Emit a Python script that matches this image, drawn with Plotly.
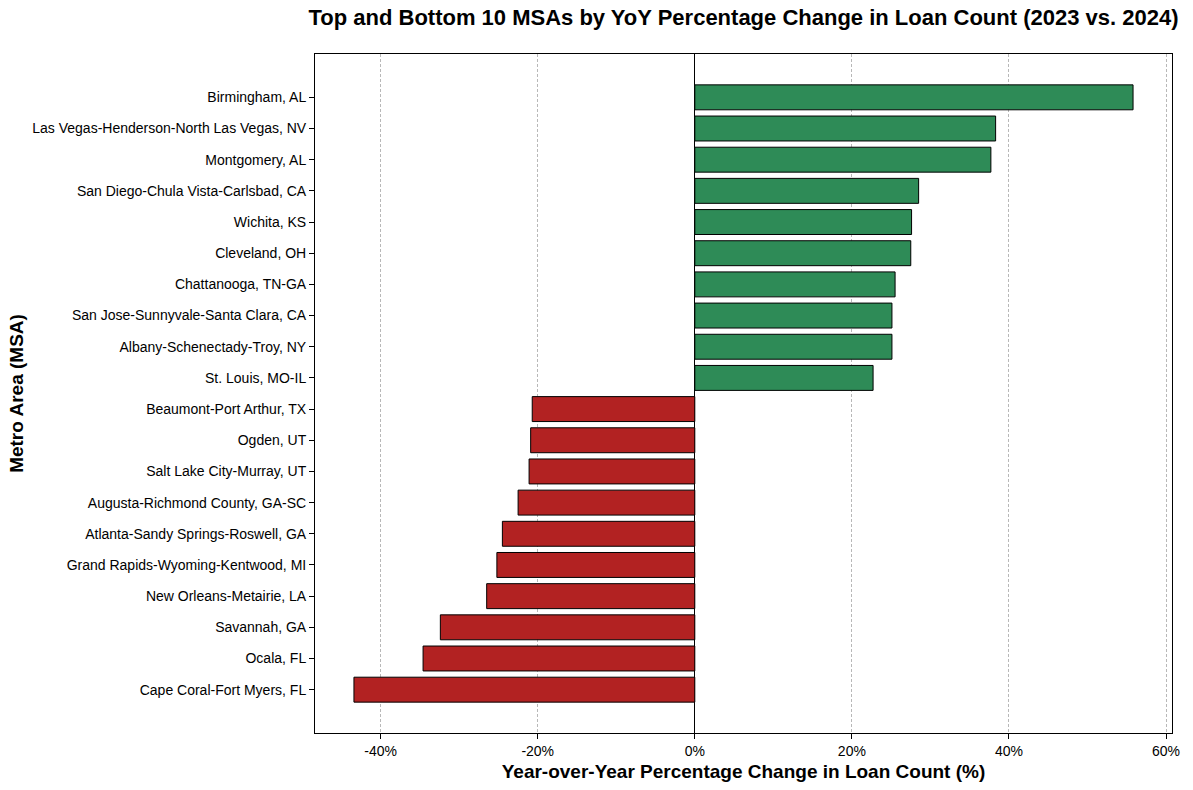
import plotly.graph_objects as go

# Data (bottom to top)
msas = [
    "Cape Coral-Fort Myers, FL",
    "Ocala, FL",
    "Savannah, GA",
    "New Orleans-Metairie, LA",
    "Grand Rapids-Wyoming-Kentwood, MI",
    "Atlanta-Sandy Springs-Roswell, GA",
    "Augusta-Richmond County, GA-SC",
    "Salt Lake City-Murray, UT",
    "Ogden, UT",
    "Beaumont-Port Arthur, TX",
    "St. Louis, MO-IL",
    "Albany-Schenectady-Troy, NY",
    "San Jose-Sunnyvale-Santa Clara, CA",
    "Chattanooga, TN-GA",
    "Cleveland, OH",
    "Wichita, KS",
    "San Diego-Chula Vista-Carlsbad, CA",
    "Montgomery, AL",
    "Las Vegas-Henderson-North Las Vegas, NV",
    "Birmingham, AL",
]
pct_change = [
    -43.4, -34.6, -32.4, -26.5, -25.2, -24.5, -22.5, -21.1, -20.9, -20.7,
    22.7, 25.1, 25.1, 25.5, 27.5, 27.6, 28.5, 37.7, 38.3, 55.8,
]
x_ticks = [-40, -20, 0, 20, 40, 60]

positions = list(range(len(msas)))
colors = ["#2e8b57" if v >= 0 else "#b22222" for v in pct_change]

fig = go.Figure(
    go.Bar(
        x=pct_change,
        y=positions,
        orientation="h",
        width=0.8,
        marker=dict(color=colors, line=dict(color="black", width=1)),
        hovertext=msas,
    )
)

font = "Liberation Sans, Arial, sans-serif"
lo, hi = min(pct_change), max(pct_change)
pad = 0.05 * (hi - lo)

W, H = 1193, 790

fig.update_layout(
    width=W,
    height=H,
    margin=dict(l=315, r=21, t=54, b=57),
    plot_bgcolor="white",
    paper_bgcolor="white",
    showlegend=False,
    font=dict(family=font, size=14, color="black"),
    title=dict(
        text="<b>Top and Bottom 10 MSAs by YoY Percentage Change in Loan Count (2023 vs. 2024)</b>",
        x=0.5,
        xref="paper",
        xanchor="center",
        y=1 - 17 / H,
        yref="container",
        yanchor="middle",
        font=dict(family=font, size=22, color="black"),
    ),
    xaxis=dict(
        range=[lo - pad, hi + pad],
        tickvals=x_ticks,
        ticktext=[f"{t}%" for t in x_ticks],
        ticks="outside",
        ticklen=5,
        tickcolor="black",
        showline=True,
        linecolor="black",
        linewidth=1,
        mirror=True,
        showgrid=True,
        gridcolor="#b8b8b8",
        gridwidth=0.6,
        griddash="3px,2px",
        zeroline=True,
        zerolinecolor="black",
        zerolinewidth=1,
        tickfont=dict(size=14),
        title=dict(
            text="<b>Year-over-Year Percentage Change in Loan Count (%)</b>",
            font=dict(size=19),
            standoff=6,
        ),
    ),
    yaxis=dict(
        range=[-1.39, len(msas) - 1 + 1.39],
        tickvals=positions,
        ticktext=msas,
        ticks="outside",
        ticklen=5,
        tickcolor="black",
        showline=True,
        linecolor="black",
        linewidth=1,
        mirror=True,
        showgrid=False,
        zeroline=False,
        tickfont=dict(size=14),
        title=dict(
            text="<b>Metro Area (MSA)</b>",
            font=dict(size=19),
            standoff=3,
        ),
    ),
    bargap=0.2,
)

fig.write_html(
    "out.html",
    config={"displayModeBar": False},
    post_script="document.body.style.margin='0';document.body.style.overflow='hidden';",
)
